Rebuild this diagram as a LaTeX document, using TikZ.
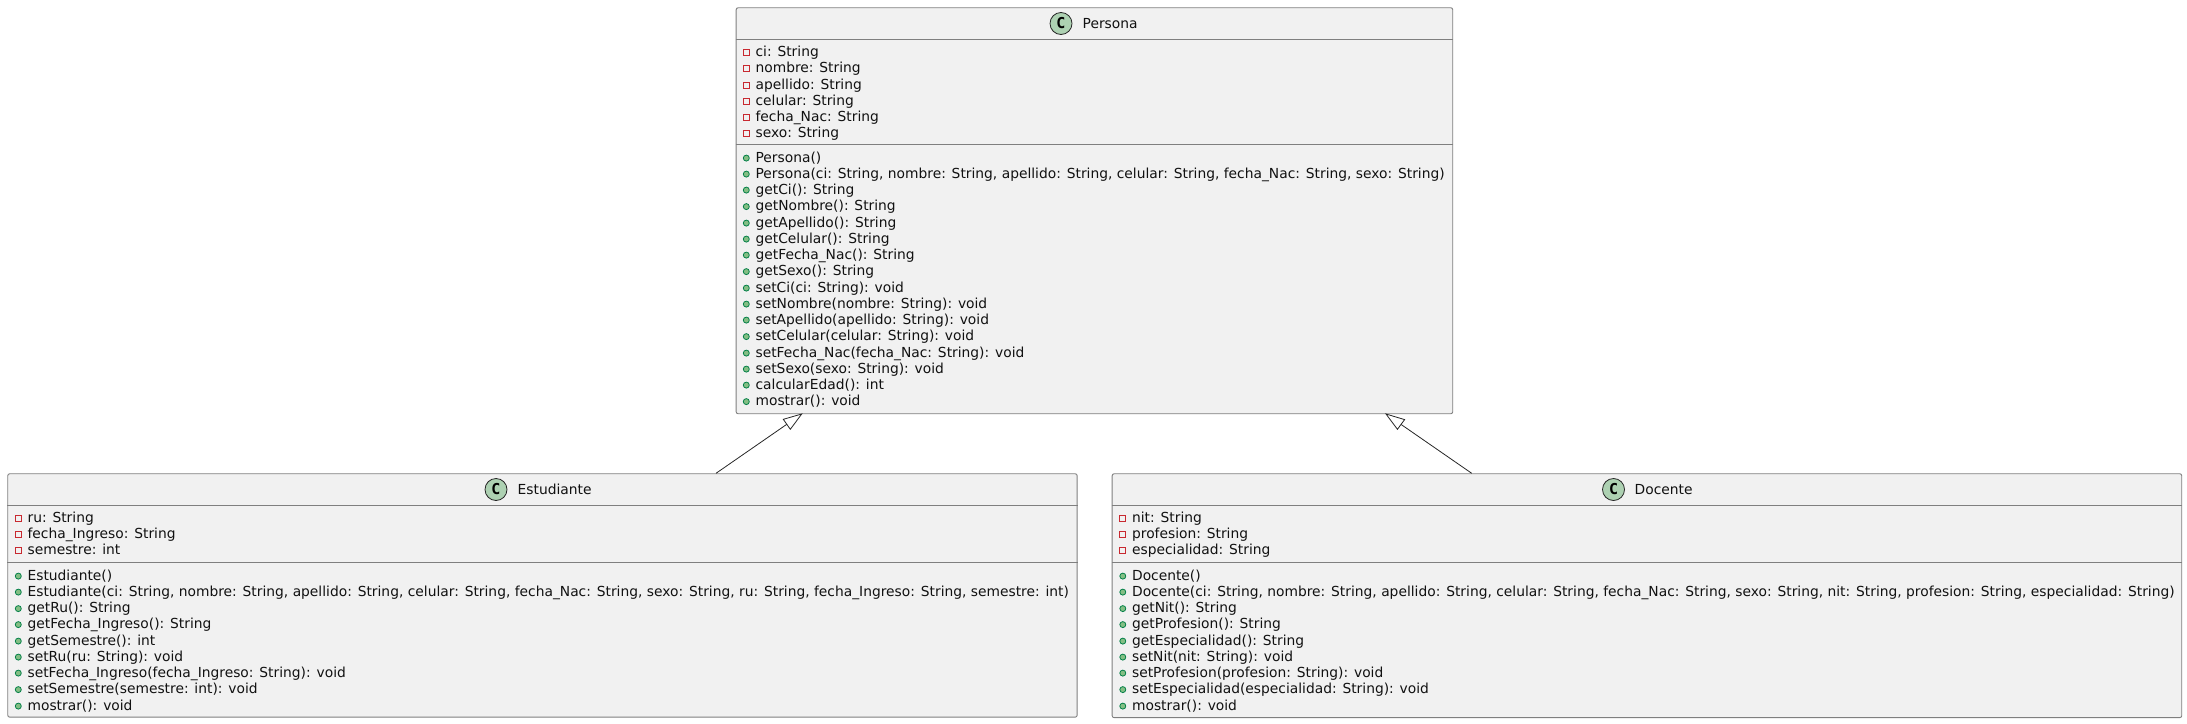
\documentclass[tikz,border=0pt]{standalone}
\usepackage{fontspec}
\setmainfont{DejaVu Sans}
\newfontfamily\boldc{DejaVu Sans Mono}[BoldFont=* Bold]
\tikzset{x=1pt,y=-1pt,
  classbox/.style={draw=boxline,fill=boxfill,line width=0.9pt,rounded corners=2pt,inner sep=0pt,anchor=north west},
  sepline/.style={draw=boxline,line width=0.9pt},
  row/.style={anchor=base west,inner sep=0pt,font=\fontsize{13.82}{16}\selectfont,text=txt},
  title/.style={anchor=base west,inner sep=0pt,font=\fontsize{13.82}{16}\selectfont,text=txt},
  badge/.style={circle,draw=black!85,fill=badgefill,line width=0.8pt,minimum size=22pt,inner sep=0pt,font=\fontsize{15}{16}\selectfont\bfseries\boldc},
  privmark/.style={draw=privred,fill=none,line width=0.8pt,minimum size=6pt,inner sep=0pt},
  pubmark/.style={circle,draw=pubdark,fill=pubfill,line width=0.8pt,minimum size=6pt,inner sep=0pt},
  inherit/.style={draw=black!85,line width=0.8pt},
  hollow/.style={draw=black!85,fill=white,line width=0.8pt,line join=miter},
}
\definecolor{boxline}{HTML}{7F7F7F}
\definecolor{boxfill}{HTML}{F1F1F1}
\definecolor{txt}{HTML}{111111}
\definecolor{badgefill}{HTML}{ADD1B2}
\definecolor{privred}{HTML}{C82930}
\definecolor{pubdark}{HTML}{038048}
\definecolor{pubfill}{HTML}{84BE84}
\newcommand{\privrow}[4]{%
  \node[privmark] (#3m) at (#1+9.3,#2-3.9) {};
  \node[row] (#3) at (#1+18.4,#2) {#4};}
\newcommand{\pubrow}[4]{%
  \node[pubmark] (#3m) at (#1+9.3,#2-3.9) {};
  \node[row] (#3) at (#1+18.4,#2) {#4};}
\begin{document}
\begin{tikzpicture}
\useasboundingbox (0,0) rectangle (2187,723);
% Persona
\node[classbox,minimum width=716.6pt,minimum height=406pt] (persona) at (735.7,7.3) {};
\draw[sepline] (persona.west |- 0,39.5) -- (persona.east |- 0,39.5);
\draw[sepline] (persona.west |- 0,144.5) -- (persona.east |- 0,144.5);
\node[badge] (pb) at (1061,23.5) {C};
\node[title] (pt) at (1082.5,28.5) {Persona};
\privrow{737}{56}{p1}{ci: String}
\privrow{737}{72}{p2}{nombre: String}
\privrow{737}{89}{p3}{apellido: String}
\privrow{737}{105}{p4}{celular: String}
\privrow{737}{121}{p5}{fecha\_Nac: String}
\privrow{737}{137}{p6}{sexo: String}
\pubrow{737}{162}{q1}{Persona()}
\pubrow{737}{178}{q2}{Persona(ci: String, nombre: String, apellido: String, celular: String, fecha\_Nac: String, sexo: String)}
\pubrow{737}{194}{q3}{getCi(): String}
\pubrow{737}{210.5}{q4}{getNombre(): String}
\pubrow{737}{227}{q5}{getApellido(): String}
\pubrow{737}{243}{q6}{getCelular(): String}
\pubrow{737}{259}{q7}{getFecha\_Nac(): String}
\pubrow{737}{275.5}{q8}{getSexo(): String}
\pubrow{737}{292}{q9}{setCi(ci: String): void}
\pubrow{737}{308}{q10}{setNombre(nombre: String): void}
\pubrow{737}{324}{q11}{setApellido(apellido: String): void}
\pubrow{737}{340.5}{q12}{setCelular(celular: String): void}
\pubrow{737}{357}{q13}{setFecha\_Nac(fecha\_Nac: String): void}
\pubrow{737}{373}{q14}{setSexo(sexo: String): void}
\pubrow{737}{389}{q15}{calcularEdad(): int}
\pubrow{737}{405.5}{q16}{mostrar(): void}
% Estudiante
\node[classbox,minimum width=1069.4pt,minimum height=243.4pt] (est) at (7.3,473.3) {};
\draw[sepline] (est.west |- 0,505.4) -- (est.east |- 0,505.4);
\draw[sepline] (est.west |- 0,562.6) -- (est.east |- 0,562.6);
\node[badge] (eb) at (496,489.5) {C};
\node[title] (et) at (517.5,494.5) {Estudiante};
\privrow{9}{522}{e1}{ru: String}
\privrow{9}{538}{e2}{fecha\_Ingreso: String}
\privrow{9}{554.5}{e3}{semestre: int}
\pubrow{9}{580}{f1}{Estudiante()}
\pubrow{9}{596}{f2}{Estudiante(ci: String, nombre: String, apellido: String, celular: String, fecha\_Nac: String, sexo: String, ru: String, fecha\_Ingreso: String, semestre: int)}
\pubrow{9}{612.5}{f3}{getRu(): String}
\pubrow{9}{628.5}{f4}{getFecha\_Ingreso(): String}
\pubrow{9}{645}{f5}{getSemestre(): int}
\pubrow{9}{661}{f6}{setRu(ru: String): void}
\pubrow{9}{677}{f7}{setFecha\_Ingreso(fecha\_Ingreso: String): void}
\pubrow{9}{693.5}{f8}{setSemestre(semestre: int): void}
\pubrow{9}{710}{f9}{mostrar(): void}
% Docente
\node[classbox,minimum width=1069.6pt,minimum height=243.9pt] (doc) at (1111.7,473.3) {};
\draw[sepline] (doc.west |- 0,505.4) -- (doc.east |- 0,505.4);
\draw[sepline] (doc.west |- 0,562.6) -- (doc.east |- 0,562.6);
\node[badge] (db) at (1613.5,489.5) {C};
\node[title] (dt) at (1634.5,494.5) {Docente};
\privrow{1113.5}{522}{d1}{nit: String}
\privrow{1113.5}{538}{d2}{profesion: String}
\privrow{1113.5}{554.5}{d3}{especialidad: String}
\pubrow{1113.5}{580}{g1}{Docente()}
\pubrow{1113.5}{596}{g2}{Docente(ci: String, nombre: String, apellido: String, celular: String, fecha\_Nac: String, sexo: String, nit: String, profesion: String, especialidad: String)}
\pubrow{1113.5}{612.5}{g3}{getNit(): String}
\pubrow{1113.5}{628.5}{g4}{getProfesion(): String}
\pubrow{1113.5}{645}{g5}{getEspecialidad(): String}
\pubrow{1113.5}{661}{g6}{setNit(nit: String): void}
\pubrow{1113.5}{677}{g7}{setProfesion(profesion: String): void}
\pubrow{1113.5}{693.5}{g8}{setEspecialidad(especialidad: String): void}
\pubrow{1113.5}{710}{g9}{mostrar(): void}
% Connectors
\coordinate (pa) at (801.7,414);
\coordinate (pab) at (790.3,429.3);
\coordinate (pac) at (783.3,419.3);
\coordinate (pam) at (786.8,424.3);
\coordinate (ea) at (716,473.3);
\draw[inherit] (ea) -- (pam);
\draw[hollow] (pa) -- (pab) -- (pac) -- cycle;
\coordinate (pd) at (1386,414);
\coordinate (pdb) at (1397.4,429.3);
\coordinate (pdc) at (1404.6,419.6);
\coordinate (pdm) at (1401,424.4);
\coordinate (da) at (1471.7,473.3);
\draw[inherit] (da) -- (pdm);
\draw[hollow] (pd) -- (pdb) -- (pdc) -- cycle;
\end{tikzpicture}
\end{document}
